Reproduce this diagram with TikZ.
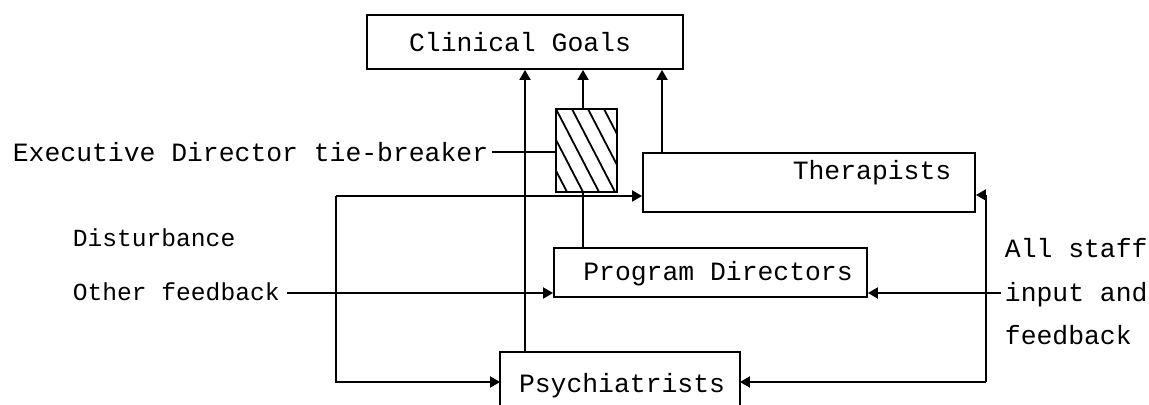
\documentclass[tikz,border=0pt]{standalone}
\usepackage{fontspec}
\setmonofont{Liberation Mono}
\usetikzlibrary{arrows.meta}
\begin{document}
\begin{tikzpicture}[x=0.5pt,y=-0.5pt,
  line width=0.9pt,
  box/.style={draw, rectangle, inner sep=0pt},
  txt/.style={font=\fontsize{13.2}{21.75}\selectfont\ttfamily, inner sep=0pt},
  smalltxt/.style={font=\fontsize{12.3}{15}\selectfont\ttfamily, inner sep=0pt},
  arr/.style={-{Triangle[length=5pt,width=5.5pt]}}]
\useasboundingbox (0,0) rectangle (1149,405);

% boxes
\node[box, minimum width=158pt, minimum height=27pt] (cg) at (525,42) {};
\node[box, minimum width=30.5pt, minimum height=41.5pt] (hatch) at (586.5,150.5) {};
\node[box, minimum width=166pt, minimum height=29.5pt] (ther) at (809,182.5) {};
\node[box, minimum width=156.5pt, minimum height=24.5pt] (pd) at (710.5,272.5) {};
\node[rectangle, inner sep=0pt, minimum width=119pt, minimum height=26pt] (psych) at (620,379) {};
\draw (psych.south west) -- (psych.north west) -- (psych.north east) -- (psych.south east);

% hatching of the tie-breaker box
\begin{scope}
  \clip (hatch.south west) rectangle (hatch.north east);
  \foreach \k in {0,...,7}
    \draw ({508+16*\k},109) -- ({551+16*\k},192);
\end{scope}

% box labels
\node[txt] at (520,42) {Clinical Goals};
\node[txt] at (872,173) {Therapists};
\node[txt] at (718,274) {Program Directors};
\node[txt] at (622,386) {Psychiatrists};

% side labels
\node[txt, anchor=west] (exec) at (12,152) {Executive Director tie-breaker};
\node[smalltxt, anchor=west] (dist) at (72,238) {Disturbance};
\node[smalltxt, anchor=west] (other) at (72,292) {Other feedback};
\node[txt, anchor=west, align=left] (staff) at (1004,292) {All staff\\input and\\feedback};

% routing points
\coordinate (xa) at (525,0);
\coordinate (xb) at (583,0);
\coordinate (xc) at (662,0);
\coordinate (ll) at (336,196);
\coordinate (ll2) at (336,382);
\coordinate (rl) at (986,195);
\coordinate (rl2) at (986,382);
\coordinate (fin) at (287,293);
\coordinate (sin) at (1001,293);

% upward links into Clinical Goals
\draw[arr] (psych.north -| xa) -- (cg.south -| xa);
\draw[arr] (hatch.north -| xb) -- (cg.south -| xb);
\draw[arr] (ther.north -| xc) -- (cg.south -| xc);
\draw (pd.north -| xb) -- (hatch.south -| xb);
\draw (exec.east) ++(3,0) -- (hatch.west |- exec.east);

% left feedback loop
\draw[arr] (ll) -- (ther.west |- ll);
\draw[arr] (ll) -- (ll2) -- (psych.west |- ll2);

% right feedback loop
\draw (rl2) -- (rl);
\draw[arr] (rl) -- (ther.east |- rl);
\draw[arr] (rl2) -- (psych.east |- rl2);

% external inputs to Program Directors
\draw[arr] (fin) -- (pd.west |- fin);
\draw[arr] (sin) -- (pd.east |- sin);
\end{tikzpicture}
\end{document}
